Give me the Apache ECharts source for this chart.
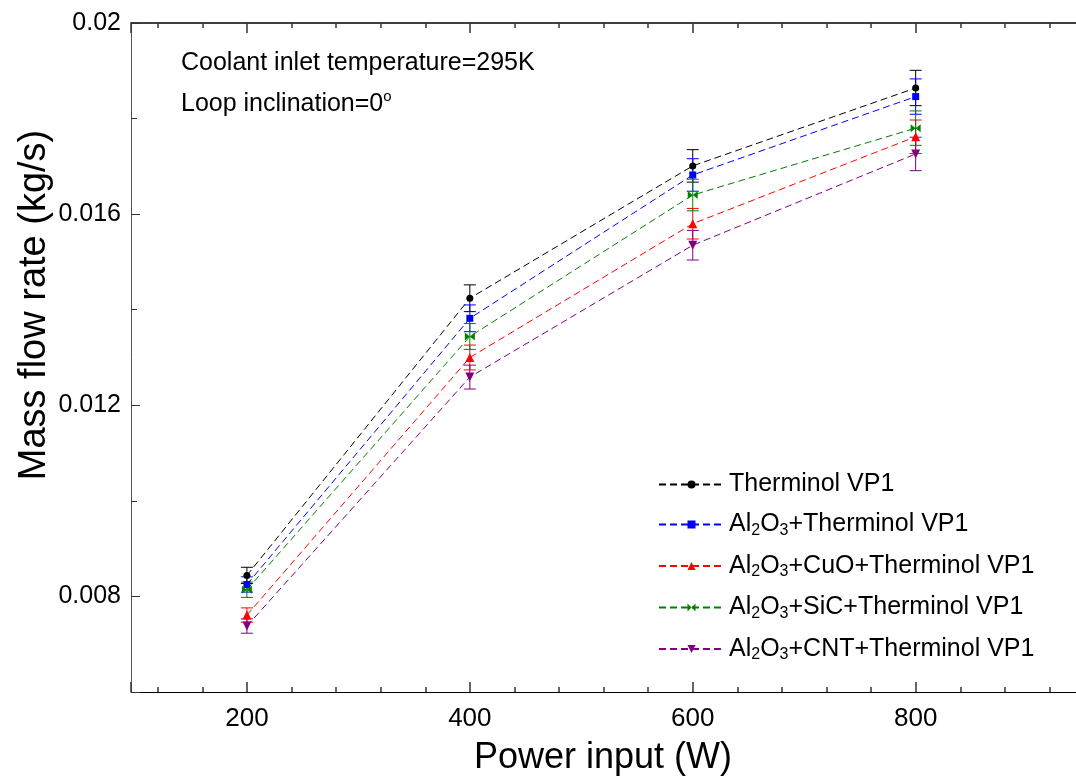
<!DOCTYPE html>
<html>
<head>
<meta charset="utf-8">
<script src="https://cdn.jsdelivr.net/npm/echarts@6/dist/echarts.min.js"></script>
<style>
html,body{margin:0;padding:0;background:#fff;}
#chart{width:1076px;height:780px;}
</style>
</head>
<body>
<div id="chart"></div>
<script>
// ---- data ----
const powerInput = [200, 400, 600, 800];
const seriesNames = [
  'Therminol VP1',
  'Al2O3+Therminol VP1',
  'Al2O3+CuO+Therminol VP1',
  'Al2O3+SiC+Therminol VP1',
  'Al2O3+CNT+Therminol VP1'
];
const therminol    = [0.00844, 0.01424, 0.01701, 0.01864];
const al2o3        = [0.00825, 0.01382, 0.01682, 0.01846];
const al2o3CuO     = [0.00761, 0.01300, 0.01580, 0.01762];
const al2o3SiC     = [0.00814, 0.01344, 0.01640, 0.01780];
const al2o3CNT     = [0.00738, 0.01259, 0.01535, 0.01726];
const errTherminol = [0.00017, 0.00028, 0.00034, 0.00037];
const errAl2o3     = [0.00016, 0.00028, 0.00034, 0.00037];
const errCuO       = [0.00015, 0.00026, 0.00032, 0.00035];
const errSiC       = [0.00016, 0.00027, 0.00033, 0.00036];
const errCNT       = [0.00015, 0.00025, 0.00031, 0.00035];
const yTickLabels = ['0.008', '0.012', '0.016', '0.02'];
const xTickLabels = ['200', '400', '600', '800'];
const annotation1 = 'Coolant inlet temperature=295K';
const annotation2 = 'Loop inclination=0';
const xTitle = 'Power input (W)';
const yTitle = 'Mass flow rate (kg/s)';

const values = [therminol, al2o3, al2o3CuO, al2o3SiC, al2o3CNT];
const errors = [errTherminol, errAl2o3, errCuO, errSiC, errCNT];
const colors = ['#000000', '#0000ff', '#ff0000', '#008000', '#800080'];
const symbols = ['circle', 'rect', 'triangle', 'path://M0,0L5,5L0,10ZM10,0L5,5L10,10Z', 'triangle'];
const symbolSizes = [7, 7, 9, [10, 8], 9];
const symbolRotates = [0, 0, 0, 0, 180];

const FONT = '"Liberation Sans", Arial, sans-serif';

const chart = echarts.init(document.getElementById('chart'), null, {renderer: 'canvas'});

const series = [];
values.forEach((vals, i) => {
  series.push({
    name: seriesNames[i],
    type: 'line',
    data: powerInput.map((x, j) => [x, vals[j]]),
    symbol: symbols[i],
    symbolSize: symbolSizes[i],
    symbolRotate: symbolRotates[i],
    symbolKeepAspect: true,
    lineStyle: {color: colors[i], width: 1, type: [7, 4]},
    itemStyle: {color: colors[i]},
    z: 3,
    animation: false
  });
});
values.forEach((vals, i) => {
  series.push({
    name: 'err' + i,
    type: 'custom',
    data: powerInput.map((x, j) => [x, vals[j] - errors[i][j], vals[j] + errors[i][j]]),
    encode: {x: 0, y: [1, 2]},
    z: 2,
    animation: false,
    renderItem: function (params, api) {
      const x = api.value(0);
      const lo = api.coord([x, api.value(1)]);
      const hi = api.coord([x, api.value(2)]);
      const hw = 6;
      const st = {stroke: colors[i], lineWidth: 1};
      return {
        type: 'group',
        children: [
          {type: 'line', shape: {x1: lo[0], y1: lo[1], x2: hi[0], y2: hi[1]}, style: st},
          {type: 'line', shape: {x1: lo[0] - hw, y1: lo[1], x2: lo[0] + hw, y2: lo[1]}, style: st},
          {type: 'line', shape: {x1: hi[0] - hw, y1: hi[1], x2: hi[0] + hw, y2: hi[1]}, style: st}
        ]
      };
    }
  });
});

function legendFmt(name) {
  if (name.indexOf('Al2O3') === 0) {
    return '{n|Al}{s|2}{n|O}{s|3}{n|' + name.slice(5) + '}';
  }
  return '{n|' + name + '}';
}

const xAxisCommon = {
  type: 'value',
  min: 96,
  max: 960,
  minInterval: 200,
  maxInterval: 200,
  splitLine: {show: false},
  axisLine: {show: true, onZero: false, lineStyle: {color: '#000', width: 1}},
  axisTick: {show: true, inside: true, length: 10, lineStyle: {color: '#333', width: 1.5}},
  minorTick: {show: true, splitNumber: 5, length: 5, lineStyle: {color: '#333', width: 1.5}},
  minorSplitLine: {show: false}
};

const option = {
  backgroundColor: '#ffffff',
  animation: false,
  grid: {left: 131, top: 23, bottom: 88, right: -18, outerBoundsMode: 'none', containLabel: false},
  xAxis: [
    Object.assign({}, xAxisCommon, {
      position: 'bottom',
      axisLabel: {
        show: true, margin: 14, fontSize: 26, fontFamily: FONT, color: '#000',
        formatter: function (v) {
          const s = String(Math.round(v));
          return xTickLabels.indexOf(s) >= 0 && Math.abs(v - Math.round(v)) < 1e-6 ? s : '';
        }
      }
    }),
    Object.assign({}, xAxisCommon, {
      position: 'top',
      axisLine: {show: true, onZero: false, lineStyle: {color: '#000', width: 1.5}},
      axisLabel: {show: false}
    })
  ],
  yAxis: {
    type: 'value',
    min: 0.006,
    max: 0.02,
    minInterval: 0.004,
    maxInterval: 0.004,
    splitLine: {show: false},
    axisLine: {show: true, onZero: false, lineStyle: {color: '#555', width: 1}},
    axisTick: {show: true, inside: true, length: 9, lineStyle: {color: '#333', width: 1}},
    minorTick: {show: true, splitNumber: 2, length: 6, lineStyle: {color: '#333', width: 1}},
    axisLabel: {
      show: true, margin: 10, fontSize: 25, fontFamily: FONT, color: '#000',
      formatter: function (v) {
        const s = String(+v.toFixed(4));
        return yTickLabels.indexOf(s) >= 0 ? s : '';
      }
    }
  },
  legend: {
    data: seriesNames,
    orient: 'vertical',
    left: 653,
    top: 467,
    itemWidth: 65,
    itemHeight: 10,
    itemGap: 15,
    selectedMode: false,
    formatter: legendFmt,
    textStyle: {
      color: '#000',
      fontFamily: FONT,
      rich: {
        n: {fontSize: 25, lineHeight: 28, fontFamily: FONT, color: '#000'},
        s: {fontSize: 16, lineHeight: 16, verticalAlign: 'bottom', fontFamily: FONT, color: '#000'}
      }
    }
  },
  graphic: [
    {
      type: 'text', x: 181, y: 51, silent: true,
      style: {text: annotation1, font: '25px ' + FONT, fill: '#000', align: 'left', verticalAlign: 'top'}
    },
    {
      type: 'text', x: 181, y: 89, silent: true,
      style: {
        text: '{a|' + annotation2 + '}{b|o}',
        fill: '#000', align: 'left', verticalAlign: 'top',
        rich: {
          a: {fontSize: 25, fontFamily: FONT, lineHeight: 30, fill: '#000'},
          b: {fontSize: 15, fontFamily: FONT, lineHeight: 15, verticalAlign: 'top', fill: '#000'}
        }
      }
    },
    {
      type: 'text', x: 603, y: 758, silent: true,
      style: {text: xTitle, font: '36px ' + FONT, fill: '#000', align: 'center', verticalAlign: 'middle'}
    },
    {
      type: 'text', x: 35, y: 305, rotation: Math.PI / 2, silent: true,
      style: {text: yTitle, font: '38px ' + FONT, fill: '#000', align: 'center', verticalAlign: 'middle'}
    }
  ],
  series: series
};

chart.setOption(option);
</script>
</body>
</html>
